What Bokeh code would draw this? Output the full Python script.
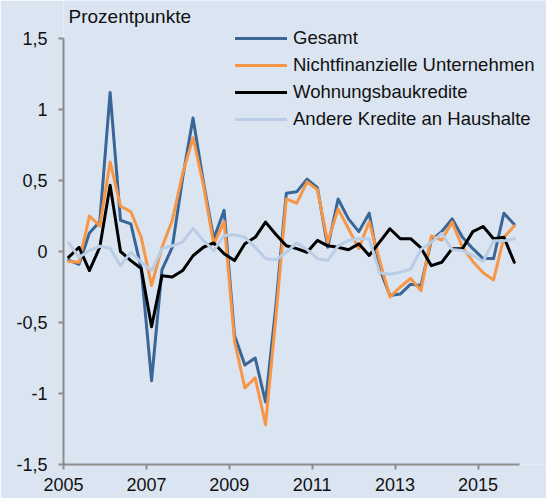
from bokeh.plotting import figure
from bokeh.models import (Legend, LegendItem, Label, FixedTicker, Range1d,
                          ColumnDataSource, CustomJSTickFormatter)
from bokeh.embed import file_html
from bokeh.resources import INLINE

# ---- data (quarterly, 2005Q1 .. 2015Q4), percentage points ----
quarters = [f"{y}Q{q}" for y in range(2005, 2016) for q in range(1, 5)]

gesamt = [-0.06, -0.09, 0.13, 0.21, 1.12, 0.22, 0.195, -0.12,
          -0.91, -0.13, 0.03, 0.52, 0.94, 0.49, 0.09, 0.29,
          -0.59, -0.80, -0.75, -1.06, -0.38, 0.41, 0.42, 0.51,
          0.45, 0.03, 0.37, 0.23, 0.14, 0.27, -0.12, -0.31,
          -0.30, -0.23, -0.24, 0.08, 0.14, 0.23, 0.10, 0.02,
          -0.05, -0.05, 0.27, 0.19]

unternehmen = [-0.07, -0.075, 0.25, 0.18, 0.63, 0.32, 0.28, 0.10,
               -0.24, 0.03, 0.22, 0.55, 0.80, 0.47, 0.05, 0.21,
               -0.63, -0.96, -0.89, -1.22, -0.46, 0.37, 0.34, 0.49,
               0.435, 0.066, 0.30, 0.16, 0.02, 0.21, -0.06, -0.32,
               -0.25, -0.19, -0.275, 0.11, 0.08, 0.207, 0.03, -0.07,
               -0.15, -0.20, 0.10, 0.18]

wohnungsbau = [-0.04, 0.03, -0.134, 0.03, 0.466, 0.0, -0.064, -0.12,
               -0.53, -0.17, -0.18, -0.134, -0.03, 0.03, 0.06, -0.016,
               -0.064, 0.054, 0.10, 0.207, 0.12, 0.04, 0.02, -0.005,
               0.078, 0.04, 0.03, 0.012, 0.054, -0.028, 0.066, 0.16,
               0.09, 0.09, 0.025, -0.10, -0.076, 0.02, 0.02, 0.14,
               0.176, 0.09, 0.10, -0.076]

andere = [0.06, -0.04, 0.007, 0.037, 0.023, -0.10, -0.005, -0.075,
          -0.134, 0.02, 0.04, 0.066, 0.164, 0.078, 0.007, 0.113,
          0.118, 0.10, 0.03, -0.05, -0.058, -0.005, 0.059, 0.014,
          -0.05, -0.064, 0.04, 0.078, 0.09, 0.09, -0.15, -0.16,
          -0.146, -0.125, 0.015, 0.065, 0.128, 0.015, 0.007, -0.028,
          -0.07, 0.075, 0.075, 0.09]

series_names = ["Gesamt", "Nichtfinanzielle Unternehmen",
                "Wohnungsbaukredite", "Andere Kredite an Haushalte"]
x_ticks = [2005, 2007, 2009, 2011, 2013, 2015]
y_ticks = [-1.5, -1.0, -0.5, 0.0, 0.5, 1.0, 1.5]
x_start, x_end = 2005, 2016
y_start, y_end = -1.5, 1.5

# position each quarter at its middle on a continuous year axis
x = [int(s[:4]) + (int(s[-1]) - 1) * 0.25 + 0.125 for s in quarters]

src = ColumnDataSource(dict(x=x, g=gesamt, u=unternehmen, w=wohnungsbau, a=andere))

BG = "#DBE5F1"
FONT = "Liberation Sans"
AXIS_COL = "#8C8C8C"
TXT = "#111111"

W, H = 546, 498
LEFT, BOTTOM = 63, 34
PX_PER_YEAR = 41.45
PX_PER_UNIT = 142.0
TOP_PAD = 38  # pixels between frame top and the 1,5 level

frame_w = W - LEFT
p = figure(width=W, height=H, output_backend="svg", toolbar_location=None,
           x_range=Range1d(x_start, x_start + frame_w / PX_PER_YEAR),
           y_range=Range1d(y_start, y_end + TOP_PAD / PX_PER_UNIT),
           min_border_left=LEFT, min_border_right=0, min_border_top=0,
           min_border_bottom=BOTTOM)
p.background_fill_color = BG
p.border_fill_color = BG
p.outline_line_color = None
p.grid.visible = False

common = dict(source=src, line_width=3, line_join="round", line_cap="round")
r_g = p.line("x", "g", line_color="#3A6597", **common)
r_u = p.line("x", "u", line_color="#F79646", **common)
r_w = p.line("x", "w", line_color="#000000", **common)
r_a = p.line("x", "a", line_color="#B9CDE5", **common)

# axes
for ax in (p.xaxis[0], p.yaxis[0]):
    ax.axis_line_color = AXIS_COL
    ax.axis_line_width = 2
    ax.major_tick_line_color = AXIS_COL
    ax.major_tick_line_width = 2
    ax.major_tick_out = 5
    ax.major_tick_in = 0
    ax.minor_tick_line_color = None
    ax.major_label_text_font = FONT
    ax.major_label_text_color = TXT

p.xaxis.bounds = (x_start, x_end)
p.xaxis.ticker = FixedTicker(ticks=x_ticks)
p.xaxis.major_label_text_font_size = "18px"
p.xaxis.major_label_standoff = 8

p.yaxis.bounds = (y_start, y_end)
p.yaxis.ticker = FixedTicker(ticks=y_ticks)
p.yaxis.formatter = CustomJSTickFormatter(
    code="return (Math.round(tick*10)/10).toString().replace('.', ',');")
p.yaxis.major_label_text_font_size = "18px"
p.yaxis.major_label_standoff = 11

# legend
legend = Legend(items=[LegendItem(label=series_names[0], renderers=[r_g]),
                       LegendItem(label=series_names[1], renderers=[r_u]),
                       LegendItem(label=series_names[2], renderers=[r_w]),
                       LegendItem(label=series_names[3], renderers=[r_a])],
                location=(172, 334), orientation="vertical",
                glyph_width=52, glyph_height=20, label_height=20,
                spacing=5, padding=0, margin=0, label_standoff=6,
                border_line_color=None, background_fill_alpha=0,
                label_text_font=FONT, label_text_font_size="18.5px",
                label_text_color=TXT)
p.add_layout(legend, "center")

title = Label(x=x_start + 5 / PX_PER_YEAR, y=y_end + 22 / PX_PER_UNIT,
              text="Prozentpunkte", text_font=FONT,
              text_font_size="19px", text_baseline="middle",
              text_color=TXT)
p.add_layout(title)

open("out.html", "w").write(file_html(p, INLINE))
